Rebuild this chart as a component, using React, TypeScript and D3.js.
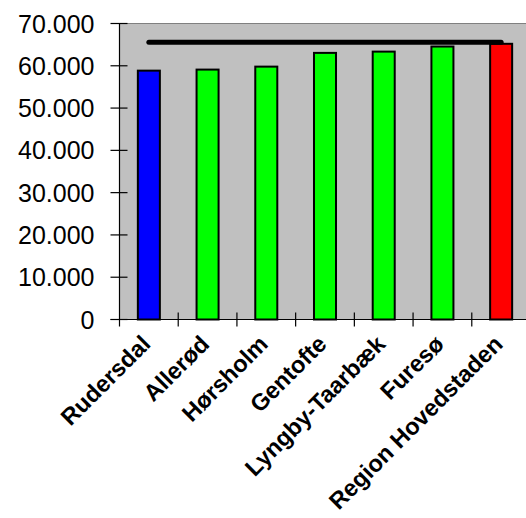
import React from "react";
import * as d3 from "d3";

const categories = ["Rudersdal", "Allerød", "Hørsholm", "Gentofte", "Lyngby-Taarbæk", "Furesø", "Region Hovedstaden"];
const values = [58850, 59100, 59800, 63050, 63350, 64550, 65200];
const barColors = ["#0000ff", "#00ff00", "#00ff00", "#00ff00", "#00ff00", "#00ff00", "#ff0000"];
const referenceLine = [65550, 65550, 65550, 65550, 65550, 65550, 65550];
const yTicks = [0, 10000, 20000, 30000, 40000, 50000, 60000, 70000];

const W = 526;
const H = 518;
const left = 119.5;
const right = 530.5;
const top = 23.5;
const bottom = 319.5;

export default function App() {
  const x = d3.scaleBand<string>().domain(categories).range([left, right]).padding(0);
  const y = d3.scaleLinear().domain([0, 70000]).range([bottom, top]);
  const fmt = d3.formatLocale({ decimal: ",", thousands: ".", grouping: [3], currency: ["", ""] }).format(",");
  const bw = x.bandwidth() * 0.375;
  const line = d3
    .line<number>()
    .x((_, i) => (x(categories[i]) as number) + x.bandwidth() / 2)
    .y((d) => y(d));
  const font = "'Liberation Sans', Arial, sans-serif";

  return (
    <svg width={W} height={H} style={{ position: "absolute", left: 0, top: 0, background: "#fff" }}>
      <rect x={left} y={top} width={right - left} height={bottom - top} fill="#c0c0c0" />
      <line x1={left} x2={right} y1={top} y2={top} stroke="#808080" strokeWidth={1} />
      {categories.map((c, i) => (
        <rect
          key={c}
          x={(x(c) as number) + x.bandwidth() / 2 - bw / 2}
          y={y(values[i])}
          width={bw}
          height={bottom - y(values[i])}
          fill={barColors[i]}
          stroke="#000"
          strokeWidth={2}
        />
      ))}
      <path d={line(referenceLine) || ""} fill="none" stroke="#000" strokeWidth={5} strokeLinecap="round" />
      {/* y axis */}
      <line x1={left} x2={left} y1={top} y2={bottom + 7} stroke="#000" strokeWidth={1.2} />
      <line x1={left - 9} x2={right} y1={bottom} y2={bottom} stroke="#000" strokeWidth={1.2} />
      {yTicks.map((t) => (
        <g key={t}>
          <line x1={left - 9} x2={left + 8} y1={y(t)} y2={y(t)} stroke="#000" strokeWidth={1.2} />
          <text
            x={94.5}
            y={y(t)}
            dy="0.36em"
            textAnchor="end"
            fontFamily={font}
            fontSize={25}
            fill="#000"
          >
            {fmt(t)}
          </text>
        </g>
      ))}
      {categories.map((c, i) => (
        <line
          key={"t" + c}
          x1={(x(c) as number) + x.bandwidth()}
          x2={(x(c) as number) + x.bandwidth()}
          y1={bottom - 7}
          y2={bottom + 7}
          stroke="#000"
          strokeWidth={1.2}
        />
      ))}
      {categories.map((c) => {
        const cx = (x(c) as number) + x.bandwidth() / 2 + 3;
        const cy = bottom + 26;
        return (
          <text
            key={"l" + c}
            transform={`translate(${cx},${cy}) rotate(-45)`}
            textAnchor="end"
            fontFamily={font}
            fontWeight="bold"
            fontSize={23.5}
            fill="#000"
          >
            {c}
          </text>
        );
      })}
    </svg>
  );
}
